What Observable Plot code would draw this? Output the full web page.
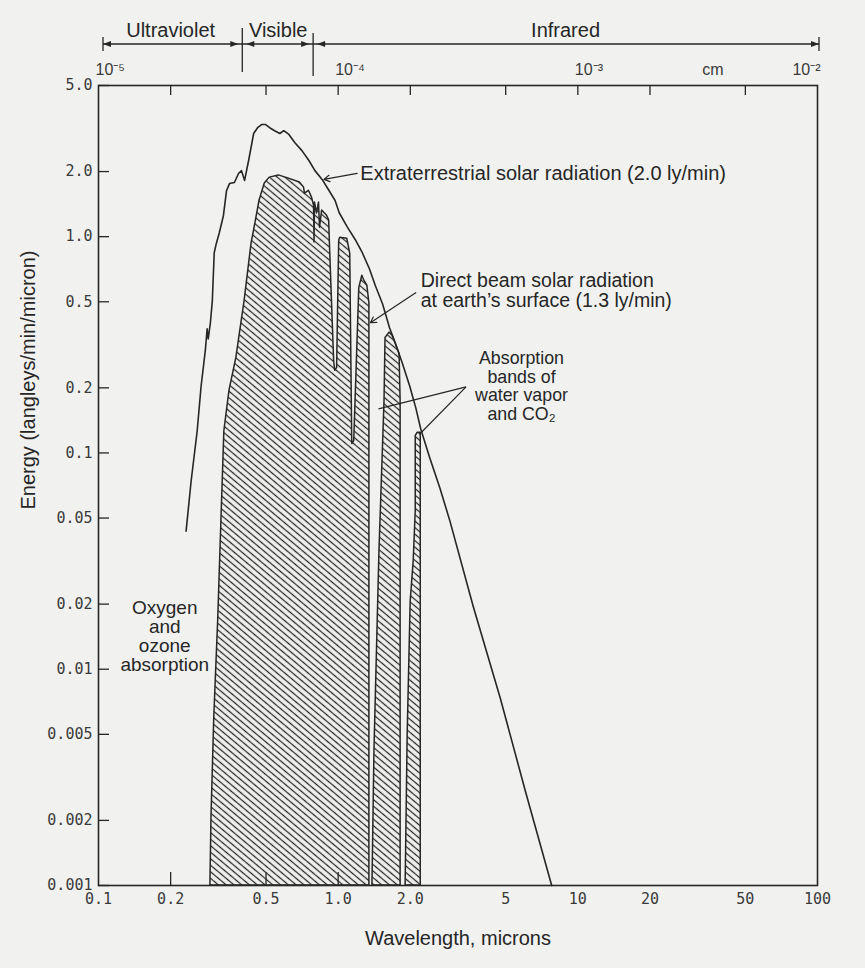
<!DOCTYPE html>
<html>
<head>
<meta charset="utf-8">
<script src="https://cdn.jsdelivr.net/npm/d3@7"></script>
<script src="https://cdn.jsdelivr.net/npm/@observablehq/plot@0.6"></script>
<style>
html, body { margin: 0; padding: 0; background: #f1f2f0; }
</style>
</head>
<body>
<div id="chart"></div>
<script>
// ---------- data ----------
// Extraterrestrial solar radiation curve (wavelength in microns, energy ly/min/micron)
const extraWavelength = [0.232, 0.2435, 0.258, 0.268, 0.279, 0.284, 0.287, 0.293, 0.2985, 0.304, 0.310, 0.319, 0.332, 0.342, 0.352, 0.369, 0.384, 0.395, 0.407, 0.423, 0.444, 0.461, 0.479, 0.498, 0.518, 0.543, 0.571, 0.593, 0.623, 0.660, 0.706, 0.755, 0.800, 0.857, 0.917, 0.971, 1.010, 1.091, 1.179, 1.261, 1.350, 1.430, 1.531, 1.638, 1.736, 1.857, 1.988, 2.107, 2.211, 2.412, 2.657, 2.927, 3.656, 4.748, 6.047, 7.78];
const extraEnergy     = [0.0435, 0.0742, 0.126, 0.204, 0.297, 0.375, 0.337, 0.400, 0.505, 0.843, 0.928, 1.04, 1.25, 1.63, 1.76, 1.78, 1.96, 2.02, 1.82, 2.25, 3.0, 3.19, 3.30, 3.30, 3.19, 3.09, 3.0, 3.09, 2.97, 2.72, 2.50, 2.25, 2.02, 1.84, 1.63, 1.47, 1.29, 1.11, 0.968, 0.843, 0.711, 0.593, 0.49, 0.379, 0.320, 0.258, 0.204, 0.162, 0.129, 0.0948, 0.0689, 0.0484, 0.0196, 0.00734, 0.00272, 0.001];

// Direct beam solar radiation at earth's surface: three windows between absorption bands
const window1Wavelength = [0.293, 0.296, 0.304, 0.316, 0.326, 0.335, 0.352, 0.376, 0.407, 0.435, 0.448, 0.470, 0.494, 0.518, 0.565, 0.623, 0.692, 0.720, 0.727, 0.755, 0.778, 0.793, 0.797, 0.800, 0.816, 0.832, 0.840, 0.857, 0.899, 0.917, 0.926, 0.962, 0.971, 0.990, 1.010, 1.020, 1.091, 1.123, 1.145, 1.167, 1.225, 1.261, 1.286, 1.324, 1.350, 1.350];
const window1Energy     = [0.001, 0.00204, 0.00593, 0.0172, 0.05, 0.126, 0.194, 0.275, 0.505, 0.928, 1.10, 1.47, 1.76, 1.875, 1.92, 1.855, 1.78, 1.69, 1.58, 1.63, 1.515, 1.39, 0.94, 1.44, 1.28, 1.44, 1.10, 1.32, 1.25, 1.19, 0.86, 0.267, 0.240, 0.247, 0.958, 0.989, 0.978, 0.834, 0.110, 0.1136, 0.58, 0.66, 0.626, 0.593, 0.49, 0.001];
const window2Wavelength = [1.390, 1.417, 1.487, 1.561, 1.576, 1.638, 1.687, 1.804, 1.822, 1.822];
const window2Energy     = [0.001, 0.00417, 0.0352, 0.174, 0.34, 0.36, 0.348, 0.287, 0.174, 0.001];
const window3Wavelength = [1.912, 1.950, 2.007, 2.066, 2.107, 2.107, 2.148, 2.211, 2.211];
const window3Energy     = [0.001, 0.005, 0.0206, 0.0316, 0.0539, 0.12, 0.124, 0.124, 0.001];

// Axes
const xTicks = [0.1, 0.2, 0.5, 1, 2, 5, 10, 20, 50, 100];
const xTickLabels = ["0.1", "0.2", "0.5", "1.0", "2.0", "5", "10", "20", "50", "100"];
const topTickValues = [0.2, 0.5, 1, 2, 5, 10, 20, 50];
const bottomTickValues = [0.2, 0.5, 1];
const yTicks = [5, 2, 1, 0.5, 0.2, 0.1, 0.05, 0.02, 0.01, 0.005, 0.002, 0.001];
const yTickLabels = ["5.0", "2.0", "1.0", "0.5", "0.2", "0.1", "0.05", "0.02", "0.01", "0.005", "0.002", "0.001"];
const cmPositions = [0.1, 1, 10, 34];
const cmLabels = ["10\u207B\u2075", "10\u207B\u2074", "10\u207B\u00B3", "cm"];
const cmEndPosition = [100];
const cmEndLabel = ["10\u207B\u00B2"];

// Spectrum regions (boundaries in microns)
const spectrumNames = ["Ultraviolet", "Visible", "Infrared"];
const spectrumEdges = [0.1, 0.4, 0.79, 100];

// ---------- styling ----------
const BG = "#f1f2f0";
const INK = "#262626";
const FONT = "'Liberation Sans', Arial, Helvetica, sans-serif";
const TICKFONT = "'DejaVu Sans Mono', 'Liberation Mono', monospace";
const FS = 20;

const extra = extraWavelength.map((x, i) => ({x, y: extraEnergy[i]}));
const direct = [
  ...window1Wavelength.map((x, i) => ({w: 1, x, y: window1Energy[i]})),
  ...window2Wavelength.map((x, i) => ({w: 2, x, y: window2Energy[i]})),
  ...window3Wavelength.map((x, i) => ({w: 3, x, y: window3Energy[i]}))
];

function hatchDefs() {
  const defs = d3.create("svg:defs");
  const p = defs.append("pattern")
    .attr("id", "hatch")
    .attr("patternUnits", "userSpaceOnUse")
    .attr("width", 5).attr("height", 5)
    .attr("patternTransform", "rotate(40)");
  p.append("rect").attr("width", 5).attr("height", 5).attr("fill", BG);
  p.append("line").attr("x1", 0).attr("x2", 5).attr("y1", 2.5).attr("y2", 2.5)
    .attr("stroke", INK).attr("stroke-width", 1.25);
  return defs.node();
}

function spectrumStrip(index, scales, values, dims) {
  const x = scales.x;
  const yl = dims.marginTop - 41;
  const g = d3.create("svg:g").attr("stroke", INK).attr("fill", "none").attr("stroke-width", 1.3);
  const xs = spectrumEdges.map(e => x(e));
  xs[0] += 5;
  xs[xs.length - 1] += 2;
  g.append("line").attr("x1", xs[0]).attr("x2", xs[xs.length - 1]).attr("y1", yl).attr("y2", yl);
  // end bars
  [xs[0], xs[xs.length - 1]].forEach(px => {
    g.append("line").attr("x1", px).attr("x2", px).attr("y1", yl - 7).attr("y2", yl + 7);
  });
  // dividers
  xs.slice(1, -1).forEach((px, i) => {
    g.append("line").attr("x1", px).attr("x2", px)
      .attr("y1", dims.marginTop - 57 + i * 5).attr("y2", dims.marginTop - 13 + i * 4);
  });
  // arrowheads
  const head = (tip, dir) => {
    g.append("path")
      .attr("d", `M${tip},${yl}L${tip - dir * 8},${yl - 3}L${tip - dir * 8},${yl + 3}Z`)
      .attr("fill", INK).attr("stroke", "none");
  };
  for (let i = 0; i < xs.length - 1; ++i) {
    const a = xs[i] + (i === 0 ? 0 : 4);
    const b = xs[i + 1] - (i === xs.length - 2 ? 0 : 4);
    head(a, -1);
    head(b, 1);
  }
  return g.node();
}

const chart = Plot.plot({
  width: 865,
  height: 968,
  marginLeft: 98,
  marginRight: 48,
  marginTop: 85,
  marginBottom: 83,
  style: {background: BG, color: INK, fontFamily: FONT},
  x: {type: "log", domain: [0.1, 100], axis: null},
  y: {type: "log", domain: [0.001, 5], axis: null},
  marks: [
    hatchDefs,
    // direct beam (hatched)
    Plot.areaY(direct, {x: "x", y1: 0.001, y2: "y", z: "w", fill: "url(#hatch)", stroke: INK, strokeWidth: 1.5, strokeLinejoin: "round"}),
    // extraterrestrial curve
    Plot.line(extra, {x: "x", y: "y", stroke: INK, strokeWidth: 1.6, strokeLinejoin: "round"}),
    Plot.frame({stroke: INK, strokeWidth: 1.6}),
    // ticks (inward)
    Plot.axisY({ticks: yTicks, text: null, tickSize: -11, label: null, stroke: INK, strokeWidth: 1.3}),
    Plot.axisX({anchor: "bottom", ticks: bottomTickValues, text: null, tickSize: -13, label: null, stroke: INK, strokeWidth: 1.3}),
    Plot.axisX({anchor: "top", ticks: topTickValues, text: null, tickSize: -9, label: null, stroke: INK, strokeWidth: 1.3}),
    // tick labels
    Plot.text(yTicks, {y: d => d, text: (d, i) => yTickLabels[i], frameAnchor: "left", textAnchor: "end", dx: -6, fontFamily: TICKFONT, fontSize: 15, fill: "#3a3a3a"}),
    Plot.text(xTicks, {x: d => d, text: (d, i) => xTickLabels[i], frameAnchor: "bottom", lineAnchor: "middle", dy: 14, fontFamily: TICKFONT, fontSize: 15, fill: "#3a3a3a"}),
    // top wavelength-in-cm labels
    Plot.text(cmLabels, {x: (d, i) => cmPositions[i], text: d => d, frameAnchor: "top", lineAnchor: "middle", dy: -16, textAnchor: "start", dx: -3, fontSize: 16, fill: "#3a3a3a"}),
    Plot.text(cmEndLabel, {x: (d, i) => cmEndPosition[i], text: d => d, frameAnchor: "top", lineAnchor: "middle", dy: -16, textAnchor: "end", dx: 3, fontSize: 16, fill: "#3a3a3a"}),
    // spectrum strip
    spectrumStrip,
    Plot.text(spectrumNames, {x: (d, i) => Math.sqrt(spectrumEdges[i] * spectrumEdges[i + 1]), text: d => d, frameAnchor: "top", lineAnchor: "middle", dy: -55, fontSize: FS, fill: INK}),
    // axis titles
    Plot.text(["Wavelength, microns"], {text: d => d, frameAnchor: "bottom", lineAnchor: "middle", dy: 53, fontSize: FS, fill: INK}),
    Plot.text(["Energy (langleys/min/micron)"], {text: d => d, frameAnchor: "left", dx: -70, dy: 24, rotate: -90, fontSize: FS, fill: INK}),
    // annotations
    Plot.arrow([0], {x1: 1.20, y1: 1.96, x2: 0.873, y2: 1.84, stroke: INK, strokeWidth: 1.2, headLength: 8}),
    Plot.text(["Extraterrestrial solar radiation (2.0 ly/min)"], {x: 1.237, y: 1.96, text: d => d, textAnchor: "start", fontSize: FS, fill: INK}),
    Plot.arrow([0], {x1: 2.107, y1: 0.551, x2: 1.363, y2: 0.400, stroke: INK, strokeWidth: 1.2, headLength: 8}),
    Plot.text(["Direct beam solar radiation\nat earth\u2019s surface (1.3 ly/min)"], {x: 2.211, y: 0.565, text: d => d, textAnchor: "start", lineHeight: 1.06, fontSize: 19.5, fill: INK}),
    Plot.link([0, 1], {x1: 3.417, y1: 0.202, x2: d => [1.473, 2.232][d], y2: d => [0.160, 0.125][d], stroke: INK, strokeWidth: 1.2}),
    Plot.text(["Absorption\nbands of\nwater vapor\nand CO\u2082"], {x: 5.82, y: 0.204, text: d => d, textAnchor: "middle", lineHeight: 1.06, fontSize: 17.8, fill: INK}),
    Plot.text(["Oxygen\nand\nozone\nabsorption"], {x: 0.189, y: 0.0142, text: d => d, textAnchor: "middle", lineHeight: 1.0, fontSize: 19, fill: INK})
  ]
});

document.getElementById("chart").appendChild(chart);
</script>
</body>
</html>
